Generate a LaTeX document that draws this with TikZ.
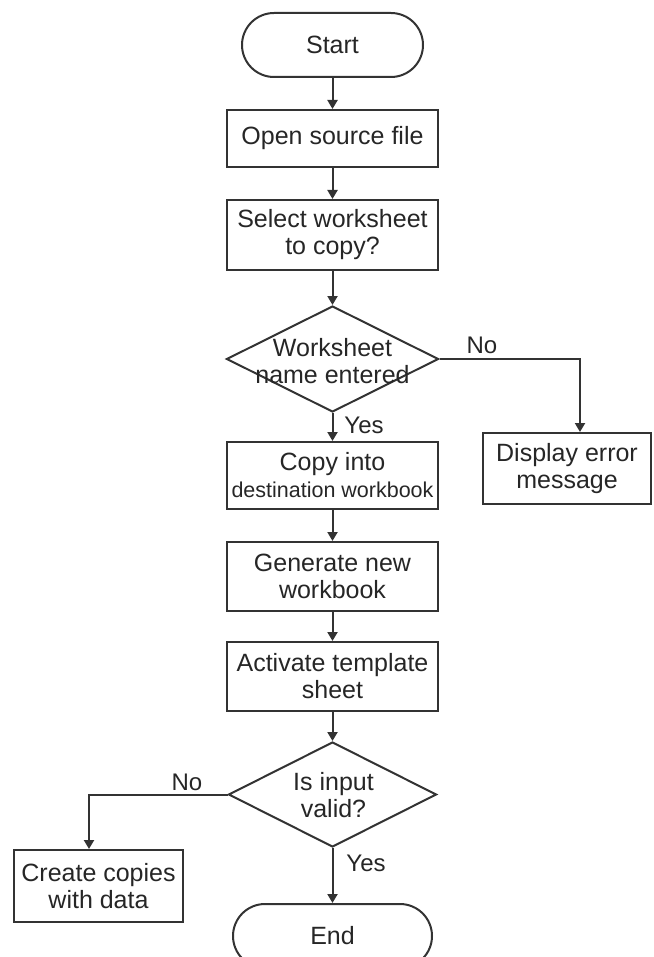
\documentclass[tikz,border=0pt]{standalone}
\usepackage{fontspec}
\setmainfont{Liberation Sans}
\usetikzlibrary{shapes.geometric,arrows.meta}

\tikzset{
  flowline/.style={draw=black!80, line width=2pt},
  arrowline/.style={flowline, -{Triangle[length=9pt,width=10pt]}},
  procbox/.style={draw=black!80, line width=2pt, rectangle, inner sep=0pt,
    minimum width=211pt, align=center, text=black!85, font=\fontsize{25}{27}\selectfont},
  termbox/.style={procbox, rounded corners=32pt, minimum height=64pt},
  decision/.style={draw=black!80, line width=2pt, diamond, inner sep=0pt},
  decisiontext/.style={align=center, text=black!85, font=\fontsize{25}{27}\selectfont},
  branchlabel/.style={text=black!85, font=\fontsize{24}{26}\selectfont, inner sep=0pt}
}

\begin{document}
\begin{tikzpicture}[x=1pt,y=-1pt]
  \useasboundingbox (0,0) rectangle (653,957);

  % terminals and process steps
  \node[termbox, minimum width=181pt] (start) at (332.5,45) {Start};
  \node[procbox, minimum height=57pt] (open) at (332.5,138.5) {Open source file};
  \node[procbox, minimum height=70pt] (select) at (332.5,235) {Select worksheet\\to copy?};

  % first decision
  \node[decision, minimum width=212pt, minimum height=106pt] (dec1) at (332.5,359) {};
  \node[decisiontext] (dec1text) at (332.5,361) {Worksheet\\name entered};

  \node[procbox, minimum width=168pt, minimum height=71pt] (err) at (567,468.5) {Display error\\message};
  \node[procbox, minimum height=67pt] (copy) at (332.5,475.5)
    {Copy into\\{\fontsize{21.5}{24}\selectfont destination workbook}};
  \node[procbox, minimum height=69pt] (gen) at (332.5,576.5) {Generate new\\workbook};
  \node[procbox, minimum height=69pt] (act) at (332.5,676.5) {Activate template\\sheet};

  % second decision
  \node[decision, minimum width=208pt, minimum height=105pt] (dec2) at (332.5,794.5) {};
  \node[decisiontext] (dec2text) at (333.5,795) {Is input\\valid?};

  \node[procbox, minimum width=169pt, minimum height=72pt] (create) at (98.5,886) {Create copies\\with data};
  \node[termbox, minimum width=199pt] (end) at (332.5,936) {End};

  % connectors
  \draw[arrowline] (start.south) -- (open.north);
  \draw[arrowline] (open.south) -- (select.north);
  \draw[arrowline] (select.south) -- (dec1.north);
  \draw[arrowline] (dec1.south) -- (copy.north);
  \draw[arrowline] (dec1.east) -| ([xshift=13pt]err.north);
  \draw[arrowline] (copy.south) -- (gen.north);
  \draw[arrowline] (gen.south) -- (act.north);
  \draw[arrowline] (act.south) -- (dec2.north);
  \draw[arrowline] (dec2.west) -| ([xshift=-9.5pt]create.north);
  \draw[arrowline] (dec2.south) -- (end.north);

  % branch labels
  \node[branchlabel] (no1) at (482,345) {No};
  \node[branchlabel] (yes1) at (364,425) {Yes};
  \node[branchlabel] (no2) at (187,782) {No};
  \node[branchlabel] (yes2) at (366,863) {Yes};
\end{tikzpicture}
\end{document}
